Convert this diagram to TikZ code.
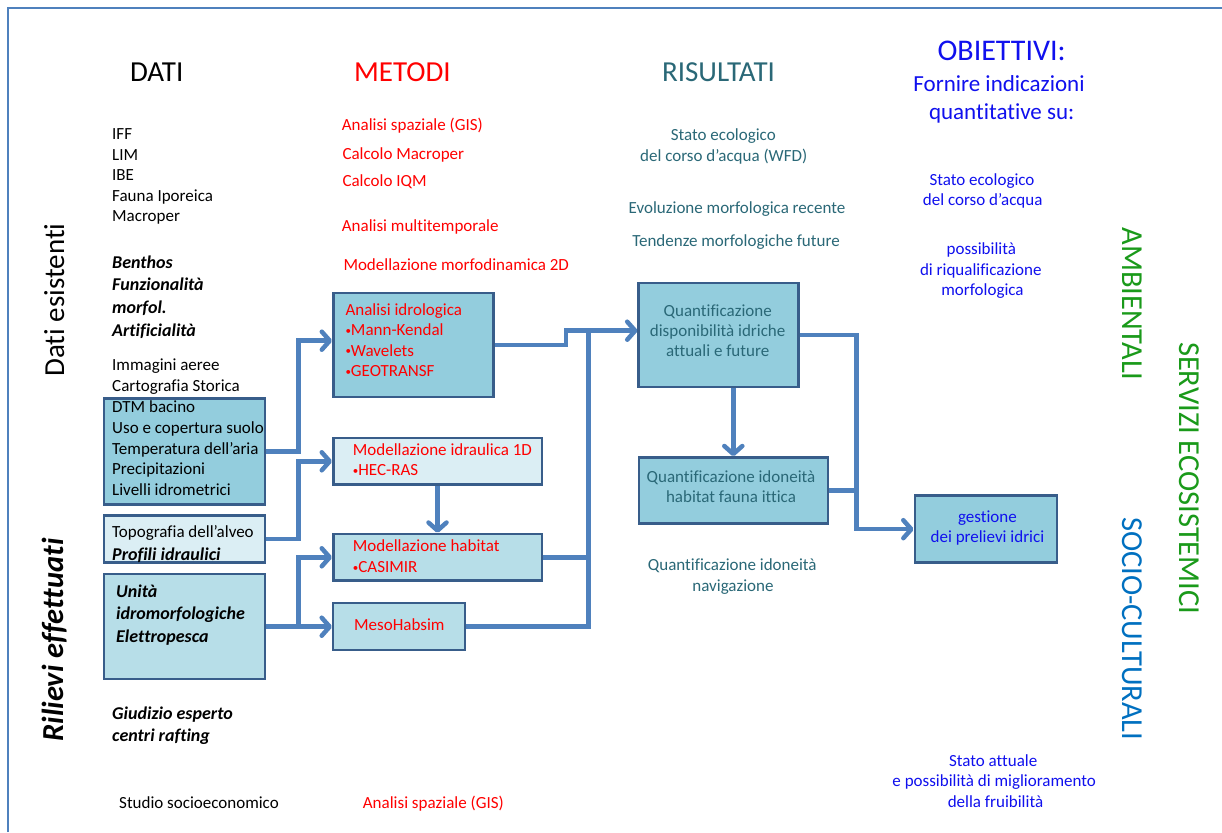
\documentclass[tikz,border=0pt]{standalone}
\usepackage{fontspec}
\setmainfont{Carlito}[Ligatures={NoCommon}]
\usetikzlibrary{arrows.meta}
\definecolor{frameblue}{HTML}{4F81BD}
\definecolor{boxedge}{HTML}{385D8A}
\definecolor{fillmid}{HTML}{93CDDD}
\definecolor{filllight}{HTML}{DBEEF4}
\definecolor{fillpale}{HTML}{B7DEE8}
\definecolor{restxt}{HTML}{2A6877}
\definecolor{objblue}{HTML}{1010EE}
\definecolor{ecogreen}{HTML}{1A9A1A}
\definecolor{socioblue}{HTML}{0070C0}
\definecolor{methred}{HTML}{FF0000}
\newcommand{\smbul}{\raisebox{1.5pt}{\fontsize{11}{12}\selectfont •}}
\begin{document}
\begin{tikzpicture}[x=1pt,y=-1pt,
  every node/.style={inner sep=0pt},
  txt/.style={font=\fontsize{17}{20}\selectfont, anchor=base west},
  ctxt/.style={font=\fontsize{17}{20}\selectfont, anchor=base},
  bitxt/.style={font=\fontsize{18}{21}\selectfont\bfseries\itshape, anchor=base west},
  head/.style={font=\fontsize{29}{34}\selectfont, anchor=base},
  subhead/.style={font=\fontsize{23}{27}\selectfont, anchor=base, text=objblue},
  side/.style={font=\fontsize{29}{34}\selectfont, anchor=base},
  sideb/.style={font=\fontsize{30.5}{36}\selectfont, anchor=base},
  box/.style={draw=boxedge, line width=2.5pt, rectangle, inner sep=0pt},
  conn/.style={draw=frameblue, line width=4.5pt},
  arr/.style={conn, -{Straight Barb[round,length=8pt,width=18pt]}},
  red/.style={text=methred},
  res/.style={text=restxt},
  obj/.style={text=objblue}]
\useasboundingbox (0,0) rectangle (1222,832);
\fill[white] (0,0) rectangle (1222,832);
\draw[frameblue, line width=2pt] (7.5,832) -- (7.5,8.5) -- (1222,8.5);

% headings
\node[head] (hdati) at (156.7,81.7) {DATI};
\node[head, red] (hmet) at (402.5,82) {METODI};
\node[head, res] (hres) at (718.5,82) {RISULTATI};
\node[head, obj, font=\fontsize{30}{35}\selectfont] (hobj) at (1001.7,61) {OBIETTIVI:};
\node[subhead] (hobj2) at (999,91.7) {Fornire indicazioni};
\node[subhead] (hobj3) at (1001.7,120) {quantitative su:};

% side labels
\node[side, rotate=90] (sdati) at (64,300) {Dati esistenti};
\node[side, rotate=90, font=\fontsize{30.5}{36}\selectfont\bfseries\itshape] (sril) at (63,640) {Rilievi effettuati};
\node[sideb, rotate=-90, text=ecogreen] (samb) at (1122,304) {AMBIENTALI};
\node[sideb, rotate=-90, text=ecogreen] (sserv) at (1179,478.3) {SERVIZI ECOSISTEMICI};
\node[sideb, rotate=-90, text=socioblue] (ssoc) at (1122,628.7) {SOCIO-CULTURALI};

% left column
\node[txt] (d1) at (112,139.5) {IFF};
\node[txt] (d2) at (112,160) {LIM};
\node[txt] (d3) at (112,180.5) {IBE};
\node[txt] (d4) at (112,201) {Fauna Iporeica};
\node[txt] (d5) at (112,221.5) {Macroper};
\node[bitxt] (d6) at (112,268) {Benthos};
\node[bitxt] (d7) at (112,290.5) {Funzionalità};
\node[bitxt] (d8) at (112,313) {morfol.};
\node[bitxt] (d9) at (112,336) {Artificialità};
\node[txt] (d10) at (112,370.7) {Immagini aeree};
\node[txt] (d11) at (112,391) {Cartografia Storica};
\node[bitxt] (d12) at (112,719) {Giudizio esperto};
\node[bitxt] (d13) at (112,741) {centri rafting};
\node[txt] (d14) at (119,808) {Studio socioeconomico};

% boxes
\node[box, fill=fillmid, minimum width=161pt, minimum height=106pt] (b1) at (184.7,451.5) {};
\node[box, fill=filllight, minimum width=161pt, minimum height=47pt] (b2) at (184.7,539) {};
\node[box, fill=fillpale, minimum width=161pt, minimum height=105pt] (b3) at (184.7,626.7) {};
\node[box, fill=fillmid, minimum width=160pt, minimum height=104pt] (bA) at (413.3,345) {};
\node[box, fill=filllight, minimum width=208.5pt, minimum height=46.5pt] (bB) at (437.5,461.3) {};
\node[box, fill=fillpale, minimum width=208.5pt, minimum height=46.5pt] (bC) at (437.5,557.3) {};
\node[box, fill=fillpale, minimum width=132pt, minimum height=47pt] (bD) at (399.2,626.7) {};
\node[box, fill=fillmid, minimum width=160pt, minimum height=104pt] (bE) at (718.7,335) {};
\node[box, fill=fillmid, minimum width=189pt, minimum height=66pt] (bF) at (733.3,490.5) {};
\node[box, fill=fillmid, minimum width=142pt, minimum height=67pt] (bG) at (985.8,529.2) {};

% box texts
\node[txt] (x11) at (112,412) {DTM bacino};
\node[txt] (x12) at (112,433) {Uso e copertura suolo};
\node[txt] (x13) at (112,454) {Temperatura dell’aria};
\node[txt] (x14) at (112,474) {Precipitazioni};
\node[txt] (x15) at (112,495) {Livelli idrometrici};
\node[txt] (x21) at (112,537) {Topografia dell’alveo};
\node[bitxt] (x22) at (112,560) {Profili idraulici};
\node[bitxt] (x31) at (116,597.7) {Unità};
\node[bitxt] (x32) at (116,619.5) {idromorfologiche};
\node[bitxt] (x33) at (116,642) {Elettropesca};
\node[txt, red] (xa1) at (345.3,315) {Analisi idrologica};
\node[txt, red] (xa2) at (345.3,335.7) {\smbul Mann-Kendal};
\node[txt, red] (xa3) at (345.3,356) {\smbul Wavelets};
\node[txt, red] (xa4) at (345.3,376.7) {\smbul GEOTRANSF};
\node[txt, red] (xb1) at (352.7,455) {Modellazione idraulica 1D};
\node[txt, red] (xb2) at (352.7,475.7) {\smbul HEC-RAS};
\node[txt, red] (xc1) at (352.7,551.7) {Modellazione habitat};
\node[txt, red] (xc2) at (352.7,572.7) {\smbul CASIMIR};
\node[txt, red] (xd1) at (354,630) {MesoHabsim};
\node[ctxt, res] (xe1) at (717.7,316) {Quantificazione};
\node[ctxt, res] (xe2) at (717.7,336) {disponibilità idriche};
\node[ctxt, res] (xe3) at (717.7,356.7) {attuali e future};
\node[ctxt, res] (xf1) at (731,482.7) {Quantificazione idoneità};
\node[ctxt, res] (xf2) at (731,502.7) {habitat fauna ittica};
\node[ctxt, obj] (xg1) at (987.4,522.7) {gestione};
\node[ctxt, obj] (xg2) at (987.4,542.7) {dei prelievi idrici};

% methods
\node[txt, red] (m1) at (341.7,130) {Analisi spaziale (GIS)};
\node[txt, red] (m2) at (342.3,159.3) {Calcolo Macroper};
\node[txt, red] (m3) at (342.3,186.7) {Calcolo IQM};
\node[txt, red] (m4) at (341.7,231.7) {Analisi multitemporale};
\node[txt, red] (m5) at (343.3,270) {Modellazione morfodinamica 2D};
\node[txt, red] (m6) at (362.7,808) {Analisi spaziale (GIS)};

% results
\node[ctxt, res] (r1) at (723.3,140.7) {Stato ecologico};
\node[ctxt, res] (r2) at (723.7,161.7) {del corso d’acqua (WFD)};
\node[ctxt, res] (r3) at (737,213.3) {Evoluzione morfologica recente};
\node[ctxt, res] (r4) at (736,246) {Tendenze morfologiche future};
\node[ctxt, res] (r5) at (732.3,570.7) {Quantificazione idoneità};
\node[ctxt, res] (r6) at (733,591.7) {navigazione};

% objectives
\node[ctxt, obj] (o1) at (982,185) {Stato ecologico};
\node[ctxt, obj] (o2) at (982.7,205) {del corso d’acqua};
\node[ctxt, obj] (o3) at (981.3,254.3) {possibilità};
\node[ctxt, obj] (o4) at (980.8,275) {di riqualificazione};
\node[ctxt, obj] (o5) at (982.5,295) {morfologica};
\node[ctxt, obj] (o6) at (993.2,766) {Stato attuale};
\node[ctxt, obj] (o7) at (994.2,786.7) {e possibilità di miglioramento};
\node[ctxt, obj] (o8) at (995.5,807.3) {della fruibilità};

% junction columns
\coordinate (l1) at (298.3,0);
\coordinate (s1) at (566,0);
\coordinate (tr) at (588.3,0);
\coordinate (rr) at (856.7,0);
\coordinate (aIn) at ([yshift=4.3pt]bA.west);
\coordinate (eIn) at ([yshift=4.3pt]bE.west);

% connectors
\draw[arr] (b1.east) -- (l1 |- b1.east) -- (l1 |- aIn) -- (aIn);
\draw[arr] (b2.east) -- (l1 |- b2.east) -- (l1 |- bB.west) -- (bB.west);
\draw[arr] (b3.east) -- (bD.west);
\draw[arr] (l1 |- b3.east) -- (l1 |- bC.west) -- (bC.west);
\draw[arr] (bB.south) -- (bC.north);
\draw[arr] (bA.east) -- (s1 |- bA.east) -- (s1 |- eIn) -- (eIn);
\draw[conn] (bD.east) -- (tr |- bD.east) -- (tr |- eIn);
\draw[conn] (bC.east) -- (tr |- bC.east);
\draw[arr] (bE.south -| bF.north) -- (bF.north);
\draw[arr] (bE.east) -- (rr |- bE.east) -- (rr |- bG.west) -- (bG.west);
\draw[conn] (bF.east) -- (rr |- bF.east);
\end{tikzpicture}
\end{document}
